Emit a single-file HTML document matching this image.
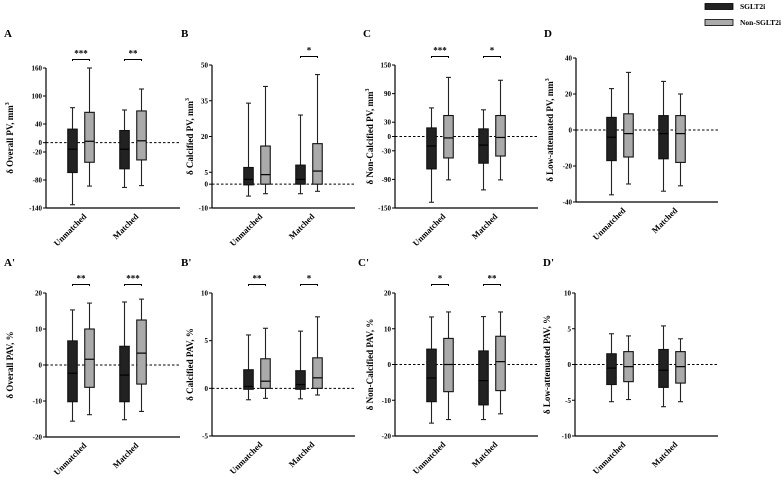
<!DOCTYPE html>
<html><head><meta charset="utf-8">
<style>
html,body{margin:0;padding:0;background:#fff;}
svg{display:block;font-family:"Liberation Serif",serif;font-weight:bold;}
</style></head>
<body>
<svg id="fig" width="784" height="487" viewBox="0 0 784 487" xmlns="http://www.w3.org/2000/svg">
<g>
<rect x="705" y="3.5" width="28" height="6" fill="#222" stroke="#000" stroke-width="0.8"/>
<text x="740" y="9" font-size="7.5">SGLT2i</text>
<rect x="705" y="19.5" width="28" height="6" fill="#aaa" stroke="#000" stroke-width="0.8"/>
<text x="740" y="25" font-size="7.5">Non-SGLT2i</text>
</g>
</svg>
<script>
// Shared categories
const categories = ['Unmatched', 'Matched'];
// Each series: [whiskerMin, q1, median, q3, whiskerMax] per category
const aSglt2i = [[-133, -64, -14, 29, 75], [-96, -56, -14, 26, 70]];
const aNonSglt2i = [[-93, -42, 3, 65, 160], [-92, -37, 4, 68, 115]];
const aTicks = [160, 100, 40, 0, -20, -80, -140];
const aSig = ['***', '**'];

const bSglt2i = [[-5, -0.3, 2, 7, 34], [-4, 0, 2, 8, 29]];
const bNonSglt2i = [[-4, 0, 4, 16, 41], [-3, 0, 5.5, 17, 46]];
const bTicks = [50, 35, 20, 5, 0, -10];
const bSig = ['', '*'];

const cSglt2i = [[-138, -68, -20, 18, 60], [-112, -56, -18, 16, 56]];
const cNonSglt2i = [[-91, -45, -3, 44, 124], [-91, -41, -2, 44, 118]];
const cTicks = [150, 90, 30, 0, -30, -90, -150];
const cSig = ['***', '*'];

const dSglt2i = [[-36, -17, -4, 7, 23], [-34, -16, -2, 8, 27]];
const dNonSglt2i = [[-30, -15, -2, 9, 32], [-31, -18, -2, 8, 20]];
const dTicks = [40, 20, 0, -20, -40];
const dSig = ['', ''];

const a2Sglt2i = [[-15.6, -10.2, -2.3, 6.7, 15.3], [-15.2, -10.2, -2.8, 5.2, 17.5]];
const a2NonSglt2i = [[-13.8, -6.2, 1.6, 10, 17.2], [-12.9, -5.3, 3.3, 12.5, 18.3]];
const a2Ticks = [20, 10, 0, -10, -20];
const a2Sig = ['**', '***'];

const b2Sglt2i = [[-1.2, -0.1, 0.2, 1.95, 5.6], [-1.1, -0.1, 0.4, 1.85, 6.0]];
const b2NonSglt2i = [[-1.05, 0, 0.75, 3.1, 6.3], [-0.7, 0, 1.1, 3.2, 7.5]];
const b2Ticks = [10, 5, 0, -5];
const b2Sig = ['**', '*'];

const c2Sglt2i = [[-16.4, -10.4, -3.8, 4.3, 13.3], [-15.4, -11.3, -4.5, 3.8, 13.4]];
const c2NonSglt2i = [[-15.4, -7.6, 0, 7.3, 14.7], [-13.8, -7.3, 0.8, 7.9, 14.7]];
const c2Ticks = [20, 10, 0, -10, -20];
const c2Sig = ['*', '**'];

const d2Sglt2i = [[-5.2, -2.8, -0.5, 1.5, 4.3], [-5.9, -3.2, -0.8, 2.1, 5.4]];
const d2NonSglt2i = [[-4.9, -2.4, -0.3, 1.8, 4.0], [-5.2, -2.6, -0.3, 1.8, 3.6]];
const d2Ticks = [10, 5, 0, -5, -10];
const d2Sig = ['', ''];

const NS = 'http://www.w3.org/2000/svg';
const svg = document.getElementById('fig');
function el(tag, attrs, parent) {
  const e = document.createElementNS(NS, tag);
  for (const k in attrs) e.setAttribute(k, attrs[k]);
  (parent || svg).appendChild(e);
  return e;
}

const panels = [
  {id:'a', letter:'A', lx:4, ly:37, title:'δ Overall PV, mm', sup:true, tx:13, ax:46, ae:180, y0:68, y1:208, min:-140, max:160, off:35, s:aSglt2i, n:aNonSglt2i, ticks:aTicks, sig:aSig},
  {id:'b', letter:'B', lx:181, ly:37, title:'δ Calcified PV, mm', sup:true, tx:193, ax:212, ae:355, y0:65, y1:208, min:-10, max:50, off:45, s:bSglt2i, n:bNonSglt2i, ticks:bTicks, sig:bSig},
  {id:'c', letter:'C', lx:363, ly:37, title:'δ Non-Calcified PV, mm', sup:true, tx:373, ax:395, ae:538, y0:65, y1:208, min:-150, max:150, off:45, s:cSglt2i, n:cNonSglt2i, ticks:cTicks, sig:cSig},
  {id:'d', letter:'D', lx:544, ly:37, title:'δ Low-attenuated PV, mm', sup:true, tx:553, ax:576, ae:718, y0:58, y1:202, min:-40, max:40, off:44, s:dSglt2i, n:dNonSglt2i, ticks:dTicks, sig:dSig},
  {id:'a2', letter:"A'", lx:4, ly:266, title:'δ Overall PAV, %', sup:false, tx:13, ax:46, ae:180, y0:293, y1:437, min:-20, max:20, off:35, s:a2Sglt2i, n:a2NonSglt2i, ticks:a2Ticks, sig:a2Sig},
  {id:'b2', letter:"B'", lx:181, ly:266, title:'δ Calcified PAV, %', sup:false, tx:193, ax:212, ae:355, y0:293, y1:436, min:-5, max:10, off:45, s:b2Sglt2i, n:b2NonSglt2i, ticks:b2Ticks, sig:b2Sig},
  {id:'c2', letter:"C'", lx:358, ly:266, title:'δ Non-Calcified PAV, %', sup:false, tx:373, ax:395, ae:538, y0:293, y1:436, min:-20, max:20, off:45, s:c2Sglt2i, n:c2NonSglt2i, ticks:c2Ticks, sig:c2Sig},
  {id:'d2', letter:"D'", lx:543, ly:266, title:'δ Low-attenuated PAV, %', sup:false, tx:550, ax:575, ae:718, y0:293, y1:436, min:-10, max:10, off:45, s:d2Sglt2i, n:d2NonSglt2i, ticks:d2Ticks, sig:d2Sig}
];

panels.forEach(p => {
  const g = el('g', {});
  
  
  const yS = v => p.y1 - (v - p.min) / (p.max - p.min) * (p.y1 - p.y0);
  const xC = i => p.ax + p.off + i * 52;

  const lt = el('text', {x:p.lx, y:p.ly, 'font-size':'11'}, g);
  lt.textContent = p.letter;
  
  

  const ya = el('line', {x1:p.ax, y1:p.y0, x2:p.ax, y2:p.y1, stroke:'#000', 'stroke-width':'1.2'}, g);
  
  
  const xa = el('line', {x1:p.ax, y1:p.y1, x2:p.ae, y2:p.y1, stroke:'#000', 'stroke-width':'1.2'}, g);
  
  

  p.ticks.forEach(t => {
    const y = yS(t);
    const tk = el('line', {x1:p.ax - 3, y1:y, x2:p.ax, y2:y, stroke:'#000', 'stroke-width':'1'}, g);
    
    
    const tl = el('text', {x:p.ax - 4, y:y + 2.5, 'font-size':'7', 'text-anchor':'end'}, g);
    tl.textContent = t;
    
    
  });

  const cy = (p.y0 + p.y1) / 2;
  const tt = el('text', {x:p.tx, y:cy, 'font-size':'9', 'text-anchor':'middle', transform:'rotate(-90 ' + p.tx + ' ' + cy + ')'}, g);
  tt.textContent = p.title;
  if (p.sup) {
    const ts = el('tspan', {'font-size':'6', dy:'-4'}, tt);
    ts.textContent = '3';
  }
  
  

  const zl = el('line', {x1:p.ax, y1:yS(0), x2:p.ae, y2:yS(0), stroke:'#000', 'stroke-width':'1', 'stroke-dasharray':'2.5,2'}, g);
  
  

  categories.forEach((cat, i) => {
    const c = xC(i);
    [[p.s[i], '#222', c - 8.5, 'sglt2i'], [p.n[i], '#aaa', c + 8.5, 'non-sglt2i']].forEach(([d, fill, bx, nm]) => {
      const bg = el('g', {}, g);
      
      
      const w = 9.5;
      el('line', {x1:bx, y1:yS(d[0]), x2:bx, y2:yS(d[4]), stroke:'#222', 'stroke-width':'1.1'}, bg);
      el('line', {x1:bx - 2.5, y1:yS(d[0]), x2:bx + 2.5, y2:yS(d[0]), stroke:'#222', 'stroke-width':'1.1'}, bg);
      el('line', {x1:bx - 2.5, y1:yS(d[4]), x2:bx + 2.5, y2:yS(d[4]), stroke:'#222', 'stroke-width':'1.1'}, bg);
      el('rect', {x:bx - w / 2, y:yS(d[3]), width:w, height:Math.max(0.5, yS(d[1]) - yS(d[3])), fill:fill, stroke:'#111', 'stroke-width':'1.1'}, bg);
      el('line', {x1:bx - w / 2, y1:yS(d[2]), x2:bx + w / 2, y2:yS(d[2]), stroke:'#000', 'stroke-width':'1.2'}, bg);
    });
    const lx = c + 6, ly = p.y1 + 9;
    const xl = el('text', {x:lx, y:ly, 'font-size':'8.5', 'text-anchor':'end', transform:'rotate(-45 ' + lx + ' ' + ly + ')'}, g);
    xl.textContent = cat;
    
    
    if (p.sig[i]) {
      const sy = p.y0 - 8.5;
      const br = el('path', {d:'M' + (c - 8.5) + ' ' + (sy + 1.5) + 'V' + sy + 'H' + (c + 8.5) + 'V' + (sy + 1.5), fill:'none', stroke:'#000', 'stroke-width':'1'}, g);
      
      
      const st = el('text', {x:c, y:sy - 3, 'font-size':'9', 'text-anchor':'middle'}, g);
      st.textContent = p.sig[i];
      
      
    }
  });
});
</script>
</body></html>
